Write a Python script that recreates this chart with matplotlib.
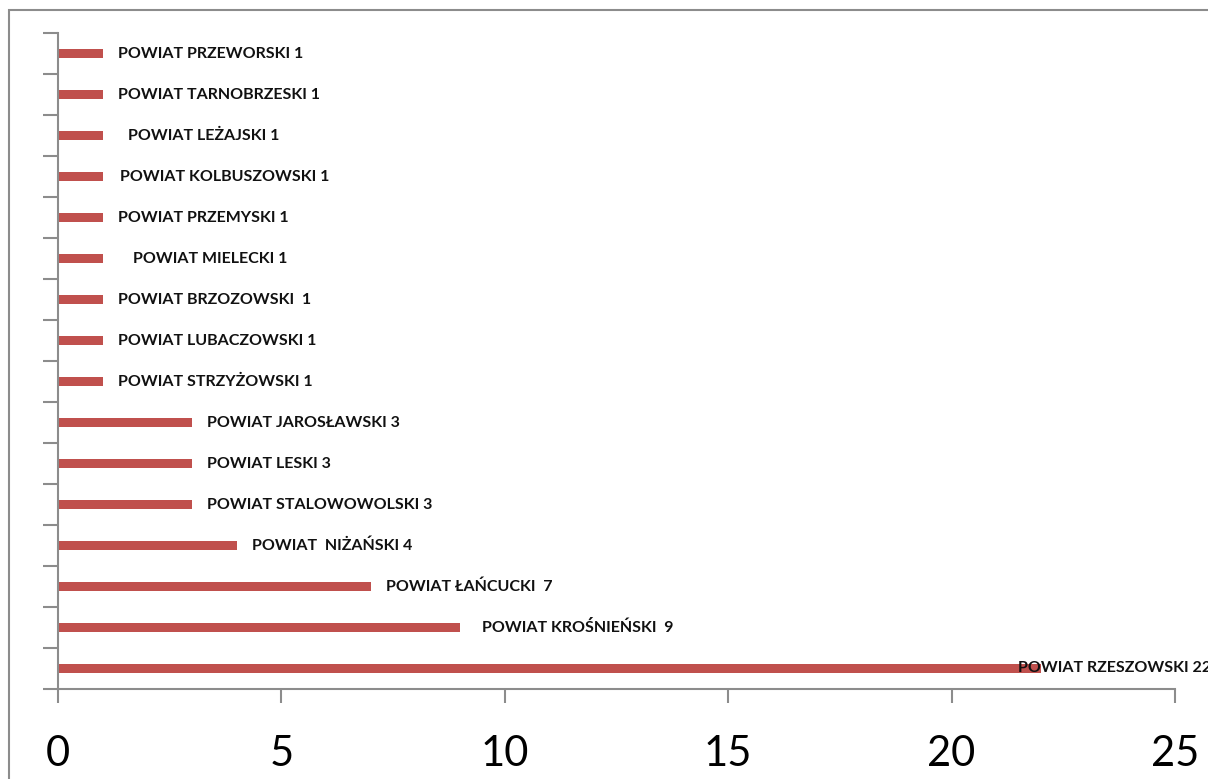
import matplotlib
matplotlib.use("Agg")
import matplotlib.pyplot as plt
from matplotlib.patches import Rectangle
import numpy as np

# powiaty, od dołu wykresu do góry
powiaty = ['POWIAT RZESZOWSKI', 'POWIAT KROŚNIEŃSKI ', 'POWIAT ŁAŃCUCKI ', 'POWIAT  NIŻAŃSKI',
           'POWIAT STALOWOWOLSKI', 'POWIAT LESKI', 'POWIAT JAROSŁAWSKI', 'POWIAT STRZYŻOWSKI',
           'POWIAT LUBACZOWSKI', 'POWIAT BRZOZOWSKI ', 'POWIAT MIELECKI', 'POWIAT PRZEMYSKI',
           'POWIAT KOLBUSZOWSKI', 'POWIAT LEŻAJSKI', 'POWIAT TARNOBRZESKI', 'POWIAT PRZEWORSKI']
liczba = [22, 9, 7, 4, 3, 3, 3, 1, 1, 1, 1, 1, 1, 1, 1, 1]

# przesunięcie etykiet (w pikselach) - tak jak w oryginale
label_pad = [-23, 22, 15, 15, 15, 15, 15, 15, 15, 15, 30, 15, 17, 25, 15, 15]

plt.rcParams['font.family'] = ['Lato', 'DejaVu Sans']

fig = plt.figure(figsize=(12.08, 7.79), dpi=100)
ax = fig.add_axes([58/1208, 1-689/779, (1175-58)/1208, (689-33)/779])

# ramka wykresu
fig.patches.append(Rectangle((9/1208, -0.1), 1.2, 1-10/779+0.1, transform=fig.transFigure,
                             fill=False, edgecolor='#8c8c8c', linewidth=1.5))

y = np.arange(len(powiaty))
ax.barh(y, liczba, height=0.22, color='#C0504D')

for i in range(len(powiaty)):
    ax.annotate(powiaty[i] + ' ' + str(liczba[i]), (liczba[i], y[i]),
                xytext=(label_pad[i]*0.72, 0), textcoords='offset points',
                ha='left', va='center', fontsize=11.5, fontweight='bold',
                color='#111111', annotation_clip=False)

ax.set_xlim(0, 25)
ax.set_ylim(-0.5, 15.5)
ax.set_xticks([0, 5, 10, 15, 20, 25])
ax.tick_params(axis='x', labelsize=30, length=10, width=1.5, color='#8c8c8c', pad=23)
ax.set_yticks(np.arange(-0.5, 16, 1))
ax.set_yticklabels([])
ax.tick_params(axis='y', length=11, width=1.5, color='#8c8c8c')

for s in ['top', 'right']:
    ax.spines[s].set_visible(False)
for s in ['left', 'bottom']:
    ax.spines[s].set_color('#8c8c8c')
    ax.spines[s].set_linewidth(1.5)

fig.savefig('out.png', dpi=100)
